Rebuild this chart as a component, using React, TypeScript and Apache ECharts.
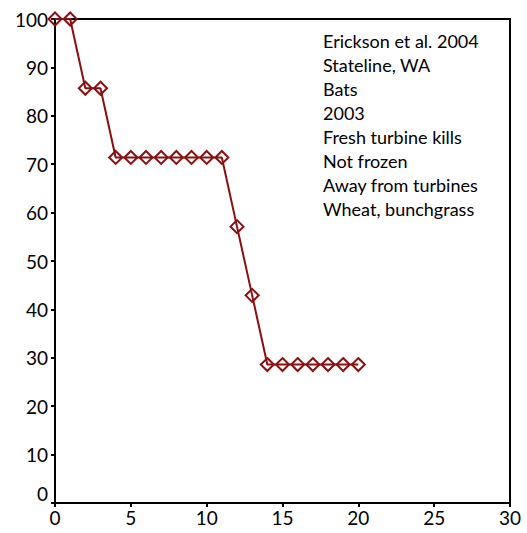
import React, { useEffect, useRef } from "react";
import * as echarts from "echarts";

const xValues = [0, 1, 2, 3, 4, 5, 6, 7, 8, 9, 10, 11, 12, 13, 14, 15, 16, 17, 18, 19, 20];
const yValues = [100, 100, 85.7, 85.7, 71.4, 71.4, 71.4, 71.4, 71.4, 71.4, 71.4, 71.4, 57.1, 42.9, 28.6, 28.6, 28.6, 28.6, 28.6, 28.6, 28.6];
const noteLines = [
  "Erickson et al. 2004",
  "Stateline, WA",
  "Bats",
  "2003",
  "Fresh turbine kills",
  "Not frozen",
  "Away from turbines",
  "Wheat, bunchgrass",
];

const FONT = "Lato, 'Open Sans', sans-serif";

export default function App() {
  const ref = useRef<HTMLDivElement>(null);
  useEffect(() => {
    if (!ref.current) return;
    const chart = echarts.init(ref.current, null, { renderer: "svg" });
    const color = "#8B0F0F";
    chart.setOption({
      animation: false,
      backgroundColor: "#ffffff",
      grid: { left: 55, right: 17, top: 19, bottom: 30, containLabel: false },
      xAxis: {
        type: "value",
        min: 0,
        max: 30,
        interval: 5,
        axisLine: { show: true, onZero: false, lineStyle: { color: "#000", width: 2 } },
        axisTick: { show: true, inside: false, length: 4, lineStyle: { color: "#000", width: 2 } },
        axisLabel: { color: "#000", fontSize: 19, fontFamily: FONT, margin: 5 },
        splitLine: { show: false },
      },
      yAxis: {
        type: "value",
        min: 0,
        max: 100,
        interval: 10,
        axisLine: { show: true, onZero: false, lineStyle: { color: "#000", width: 2 } },
        axisTick: { show: true, inside: false, length: 4, lineStyle: { color: "#000", width: 2 } },
        axisLabel: {
          color: "#000",
          fontSize: 19,
          fontFamily: FONT,
          margin: 7,
          formatter: (v: number) => (v === 0 ? "{z|0}" : String(v)),
          rich: { z: { fontSize: 19, fontFamily: FONT, color: "#000", padding: [0, 0, 20, 0] } },
        },
        splitLine: { show: false },
      },
      graphic: [
        {
          type: "rect",
          shape: { x: 55, y: 19, width: 455, height: 484 },
          style: { fill: "none", stroke: "#000", lineWidth: 2 },
          silent: true,
          z: 0,
        },
        ...noteLines.map((t, i) => ({
          type: "text",
          x: 323,
          y: 40.5 + i * 24,
          style: { text: t, fontSize: 18, fontFamily: FONT, fill: "#000", verticalAlign: "middle" },
          silent: true,
        })),
      ],
      series: [
        {
          type: "line",
          data: xValues.map((x, i) => [x, yValues[i]]),
          symbol: "diamond",
          symbolSize: 13,
          showAllSymbol: true,
          lineStyle: { color, width: 2 },
          itemStyle: { color: "rgba(255,255,255,0)", borderColor: color, borderWidth: 2 },
          z: 5,
        },
      ],
    });
    return () => chart.dispose();
  }, []);
  return <div ref={ref} style={{ width: 527, height: 533, position: "absolute", left: 0, top: 0 }} />;
}
